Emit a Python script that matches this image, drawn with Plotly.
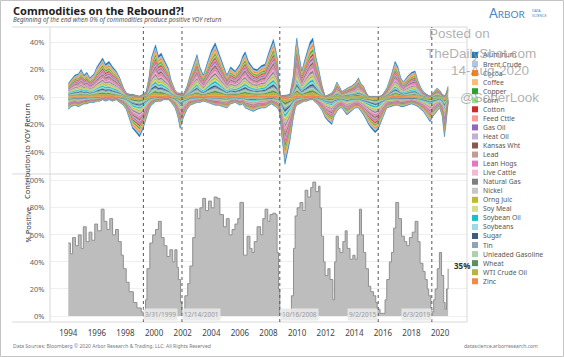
import plotly.graph_objects as go

# ---------------- data ----------------
commodities = ["Aluminum", "Brent Crude", "Cocoa", "Coffee", "Copper", "Corn", "Cotton",
               "Feed Cttle", "Gas Oil", "Heat Oil", "Kansas Wht", "Lead", "Lean Hogs",
               "Live Cattle", "Natural Gas", "Nickel", "Orng Juic", "Soy Meal",
               "Soybean Oil", "Soybeans", "Sugar", "Tin", "Unleaded Gasoline", "Wheat",
               "WTI Crude Oil", "Zinc"]
colors = ["#1f77b4", "#aec7e8", "#ff7f0e", "#ffbb78", "#2ca02c", "#98df8a", "#d62728",
          "#ff9896", "#9467bd", "#c5b0d5", "#8c564b", "#c49c94", "#e377c2", "#f7b6d2",
          "#7f7f7f", "#c7c7c7", "#bcbd22", "#dbdb8d", "#17becf", "#9edae5", "#3f5d7d",
          "#8ba3bb", "#a9d3a9", "#5f8f5f", "#b9b43e", "#ef8a4c"]
# estimated share of each commodity in the stacked contribution band
shares = [0.060, 0.050, 0.040, 0.045, 0.035, 0.040, 0.035, 0.030, 0.040, 0.040,
          0.035, 0.035, 0.040, 0.030, 0.040, 0.040, 0.035, 0.035, 0.040, 0.035,
          0.035, 0.030, 0.040, 0.035, 0.045, 0.035]

top_years = [1994.0, 1994.2, 1994.45, 1994.7, 1994.9, 1995.1, 1995.3, 1995.5, 1995.8, 1996.0,
             1996.2, 1996.4, 1996.6, 1996.85, 1997.1, 1997.35, 1997.6, 1997.85, 1998.05, 1998.3,
             1998.5, 1998.75, 1998.98, 1999.2, 1999.45, 1999.65, 1999.8, 2000.0, 2000.1, 2000.3,
             2000.5, 2000.65, 2000.85, 2001.0, 2001.2, 2001.47, 2001.65, 2001.82, 2002.05, 2002.3,
             2002.52, 2002.75, 2003.0, 2003.2, 2003.45, 2003.75, 2004.0, 2004.27, 2004.5, 2004.8,
             2005.09, 2005.35, 2005.67, 2006.0, 2006.2, 2006.37, 2006.6, 2006.94, 2007.2, 2007.5,
             2007.76, 2008.0, 2008.2, 2008.34, 2008.5, 2008.62, 2008.72, 2008.8, 2008.92, 2009.04,
             2009.15, 2009.3, 2009.5, 2009.74, 2009.88, 2009.98, 2010.15, 2010.33, 2010.5, 2010.68,
             2010.9, 2011.1, 2011.3, 2011.5, 2011.75, 2011.96, 2012.2, 2012.43, 2012.6, 2012.78,
             2013.0, 2013.13, 2013.48, 2013.8, 2014.05, 2014.29, 2014.45, 2014.64, 2014.85, 2014.99,
             2015.2, 2015.46, 2015.65, 2015.81, 2016.0, 2016.27, 2016.55, 2016.85, 2017.05, 2017.25,
             2017.43, 2017.7, 2018.0, 2018.25, 2018.45, 2018.65, 2018.83, 2019.05, 2019.3, 2019.5,
             2019.77, 2019.97, 2020.15, 2020.3, 2020.4, 2020.56]
top_pos = [10, 13, 16, 17, 20, 16, 18, 14, 17, 22,
           25, 28.5, 24, 26, 22, 19, 14, 7, 3, 2,
           2, 1, 0.5, 2, 4, 15, 28.5, 35, 38, 30,
           32, 28.5, 24, 21, 12, 5, 3, 3, 2, 8,
           16, 24, 31, 22, 16, 26, 34, 39.5, 33, 24,
           16, 22, 19, 24, 30, 33, 26, 21, 20, 23,
           24, 32, 38, 42, 35, 28.5, 12, 2, 1, 1,
           1, 1.5, 2, 16, 35, 43, 30, 19, 26, 33,
           40, 43, 30, 21, 8, 0.5, 2, 3, 6, 11,
           7, 4, 6.5, 8, 10, 14, 10, 8, 3, 0.5,
           0.5, 0.5, 0.5, 0.5, 2, 6.5, 15, 26, 22, 14,
           11, 15, 18, 19, 12, 7, 4, 2, 0.5, 3,
           6.5, 5, 2, 1, 2, 8]
top_neg = [-9, -7, -6, -7, -6, -5, -5, -4, -4, -3,
           -3, -2, -3, -2, -3, -2, -4, -6, -9, -16,
           -23, -26, -29, -24, -15, -9, -6, -4, -3.5, -3,
           -3, -2, -2, -2, -4, -8, -14, -23, -15, -9,
           -6, -5, -4, -4, -3, -4, -5, -6, -6, -7,
           -8, -5, -4, -6, -5, -8, -9, -10.5, -9, -8,
           -8, -6, -5, -6, -7, -8, -10, -13, -28, -40,
           -49, -42, -32, -15, -8, -6, -5, -4, -3, -3,
           -2, -2, -4, -6, -10, -15, -18, -20, -14, -10.5,
           -8, -8, -13, -10, -8, -8, -10, -13, -17, -20,
           -23, -26, -24, -20, -14, -8, -7, -6, -6, -7,
           -7, -6, -5, -6, -7, -9, -10.5, -14, -18, -14,
           -10.5, -8, -14, -29, -21, -4]

pct_years = [1994.0, 1994.15, 1994.3, 1994.5, 1994.7, 1994.9, 1995.05, 1995.25, 1995.45, 1995.65,
             1995.85, 1996.05, 1996.3, 1996.5, 1996.7, 1996.9, 1997.1, 1997.3, 1997.5, 1997.7,
             1997.85, 1998.05, 1998.25, 1998.55, 1998.8, 1999.1, 1999.25, 1999.4, 1999.5, 1999.7,
             1999.9, 2000.1, 2000.3, 2000.5, 2000.7, 2000.9, 2001.1, 2001.3, 2001.45, 2001.6,
             2001.7, 2001.85, 2001.95, 2002.15, 2002.35, 2002.5, 2002.7, 2002.87, 2003.05, 2003.2,
             2003.4, 2003.6, 2003.8, 2004.0, 2004.2, 2004.4, 2004.6, 2004.85, 2005.05, 2005.25,
             2005.45, 2005.65, 2005.85, 2006.0, 2006.25, 2006.5, 2006.7, 2006.85, 2007.0, 2007.2,
             2007.45, 2007.6, 2007.76, 2007.95, 2008.1, 2008.3, 2008.5, 2008.6, 2008.7, 2008.79,
             2008.96, 2009.2, 2009.4, 2009.6, 2009.75, 2009.86, 2010.0, 2010.2, 2010.4, 2010.56,
             2010.75, 2010.95, 2011.1, 2011.3, 2011.5, 2011.6, 2011.7, 2011.85, 2011.96, 2012.15,
             2012.3, 2012.5, 2012.62, 2012.73, 2012.88, 2013.0, 2013.2, 2013.36, 2013.5, 2013.7,
             2013.9, 2014.05, 2014.2, 2014.36, 2014.5, 2014.64, 2014.8, 2014.99, 2015.15, 2015.34,
             2015.5, 2015.6, 2015.8, 2016.05, 2016.15, 2016.27, 2016.45, 2016.6, 2016.75, 2016.9,
             2017.1, 2017.3, 2017.5, 2017.67, 2017.85, 2018.05, 2018.25, 2018.45, 2018.6, 2018.8,
             2018.95, 2019.1, 2019.2, 2019.35, 2019.42, 2019.55, 2019.65, 2019.8, 2019.95, 2020.1,
             2020.25, 2020.35, 2020.45, 2020.56]
pct_values = [54, 46, 58, 52, 60, 50, 66, 55, 62, 56,
              68, 63, 79, 70, 64, 72, 60, 64, 55, 45,
              35, 25, 18, 10, 6, 3, 0, 12, 35, 54,
              60, 64, 70, 58, 52, 44, 49, 40, 49, 36,
              27, 10, 2, 15, 24, 37, 58, 79, 72, 80,
              87, 78, 85, 80, 88, 87, 75, 66, 72, 60,
              64, 68, 72, 84, 45, 59, 50, 47, 55, 66,
              60, 72, 79, 70, 75, 76, 75, 47, 20, 2,
              0, 1, 2, 15, 50, 74, 80, 84, 78, 93,
              88, 95, 99, 92, 96, 80, 59, 40, 30, 35,
              27, 12, 40, 59, 50, 47, 55, 63, 50, 42,
              45, 42, 60, 79, 60, 47, 35, 22, 18, 15,
              10, 5, 2, 2, 12, 27, 40, 47, 65, 84,
              72, 59, 55, 52, 58, 62, 70, 55, 39, 33,
              27, 20, 15, 5, 3, 12, 20, 35, 47, 30,
              10, 5, 20, 35]

event_years = [1999.25, 2001.95, 2008.79, 2015.67, 2019.42]
event_labels = ["3/31/1999", "12/14/2001", "10/16/2008", "9/2/2015", "6/3/2019"]
event_side = ["right", "right", "right", "left", "left"]

year_ticks = list(range(1994, 2021, 2))
top_ticks = [-40, -20, 0, 20, 40]
bottom_ticks = [0, 20, 40, 60, 80, 100]

# ---------------- layout helpers ----------------
W, H = 564, 357
L, R, T, B = 50, 467, 27, 322
SEP = 174


def px(x):
    return (x - L) / (R - L)


def py(y):
    return (B - y) / (B - T)


FONT = "Noto Sans"
fig = go.Figure()

# top stacked areas (outermost = Aluminum)
for i in reversed(range(len(commodities))):
    c = colors[i]
    fig.add_trace(go.Scatter(
        x=top_years, y=[v * shares[i] for v in top_pos], mode="lines",
        stackgroup="pos", line=dict(width=0.4, color=c), fillcolor=c,
        xaxis="x2", yaxis="y", showlegend=False, hoverinfo="skip"))
    fig.add_trace(go.Scatter(
        x=top_years, y=[v * shares[i] for v in top_neg], mode="lines",
        stackgroup="neg", line=dict(width=0.4, color=c), fillcolor=c,
        xaxis="x2", yaxis="y", showlegend=False, hoverinfo="skip"))

# bottom % positive
fig.add_trace(go.Scatter(
    x=pct_years, y=pct_values, mode="lines", line=dict(shape="hv", color="#8f8f8f", width=1),
    fill="tozeroy", fillcolor="#bdbdbd", xaxis="x", yaxis="y2", showlegend=False,
    hoverinfo="skip"))

xr = [1992.72, 2021.88]
dom_split = py(SEP)

shapes = []
# outer frame
shapes.append(dict(type="rect", xref="paper", yref="paper", x0=px(0.5), x1=px(563.5),
                   y0=py(356.5), y1=py(0.5), line=dict(color="#c4c4c4", width=1)))
# panel borders
for yy in (T, SEP, B):
    shapes.append(dict(type="line", xref="paper", yref="paper", x0=px(12), x1=1,
                       y0=py(yy), y1=py(yy), line=dict(color="#d9d9d9", width=1)))
for xx in (L, R):
    shapes.append(dict(type="line", xref="paper", yref="paper", x0=px(xx), x1=px(xx),
                       y0=0, y1=1, line=dict(color="#d9d9d9", width=1)))
# event lines
for ex in event_years:
    shapes.append(dict(type="line", xref="x", yref="paper", x0=ex, x1=ex, y0=0, y1=1,
                       line=dict(color="#555555", width=1, dash="dot")))

annotations = []
# title / subtitle
annotations.append(dict(text="<b>Commodities on the Rebound?!</b>", xref="paper", yref="paper",
                        x=px(11), y=py(10), xanchor="left", yanchor="middle", showarrow=False,
                        font=dict(family=FONT, size=11, color="#222")))
annotations.append(dict(text="<i>Beginning of the end when 0% of commodities produce positive YOY return</i>",
                        xref="paper", yref="paper", x=px(11), y=py(20), xanchor="left",
                        yanchor="middle", showarrow=False,
                        font=dict(family=FONT, size=6.3, color="#555")))
# Arbor logo
annotations.append(dict(text="A<span style='font-size:10px'>RBOR</span>", xref="paper", yref="paper",
                        x=px(528), y=py(13), xanchor="right", yanchor="middle", showarrow=False,
                        font=dict(family="Lato", size=13, color="#4a86c5")))
annotations.append(dict(text="DATA<br>SCIENCE", xref="paper", yref="paper",
                        x=px(530), y=py(13), xanchor="left", yanchor="middle", showarrow=False,
                        align="left", font=dict(family=FONT, size=3.6, color="#4a86c5")))
# axis titles
annotations.append(dict(text="Contribution to YOY Return", xref="paper", yref="paper",
                        x=px(20), y=py(101), textangle=-90, showarrow=False,
                        font=dict(family=FONT, size=7.5, color="#333")))
annotations.append(dict(text="% Positive", xref="paper", yref="paper",
                        x=px(20), y=py(245), textangle=-90, showarrow=False,
                        font=dict(family=FONT, size=7.5, color="#333")))
# event labels
for ex, lab, side in zip(event_years, event_labels, event_side):
    annotations.append(dict(text=lab, xref="x", yref="y2", x=ex, y=-3.6,
                            xanchor="left" if side == "right" else "right", yanchor="bottom",
                            showarrow=False, bgcolor="rgba(232,232,232,0.9)", borderpad=1,
                            font=dict(family=FONT, size=6.5, color="#9a9a9a")))
# last value label
annotations.append(dict(text="<b>35%</b>", xref="paper", yref="paper", x=px(452), y=py(265),
                        xanchor="left", yanchor="middle", showarrow=False,
                        font=dict(family=FONT, size=8, color="#333")))
# footer
annotations.append(dict(text="Data Sources: Bloomberg © 2020 Arbor Research & Trading, LLC. All Rights Reserved",
                        xref="paper", yref="paper", x=px(11), y=py(346), xanchor="left",
                        yanchor="middle", showarrow=False,
                        font=dict(family=FONT, size=5, color="#777")))
annotations.append(dict(text="datascience.arborresearch.com", xref="paper", yref="paper",
                        x=px(540), y=py(346), xanchor="right", yanchor="middle", showarrow=False,
                        font=dict(family=FONT, size=5, color="#777")))
# legend
for i, (name, c) in enumerate(zip(commodities, colors)):
    yc = 55 + 9.05 * i
    shapes.append(dict(type="rect", xref="paper", yref="paper", x0=px(472), x1=px(478),
                       y0=py(yc + 3), y1=py(yc - 3), fillcolor=c, line=dict(width=0)))
    annotations.append(dict(text=name, xref="paper", yref="paper", x=px(481), y=py(yc),
                            xanchor="left", yanchor="middle", showarrow=False,
                            font=dict(family=FONT, size=6.8, color="#555")))
# watermark
wm = dict(family="Liberation Sans", size=13.5, color="rgba(150,150,150,0.75)")
annotations.append(dict(text="Posted on", xref="paper", yref="paper", x=px(427), y=py(34),
                        xanchor="left", yanchor="middle", showarrow=False, font=wm))
annotations.append(dict(text="TheDailyShot.com", xref="paper", yref="paper", x=px(424), y=py(53),
                        xanchor="left", yanchor="middle", showarrow=False, font=wm))
annotations.append(dict(text="14-Aug-2020", xref="paper", yref="paper", x=px(531), y=py(70),
                        xanchor="right", yanchor="middle", showarrow=False, font=wm))
annotations.append(dict(text="@SoberLook", xref="paper", yref="paper", x=px(458), y=py(97),
                        xanchor="left", yanchor="middle", showarrow=False, font=wm))

tickfont = dict(family=FONT, size=7.5, color="#666")
fig.update_layout(
    width=W, height=H, margin=dict(l=L, r=W - R, t=T, b=H - B),
    paper_bgcolor="white", plot_bgcolor="white",
    xaxis=dict(domain=[0, 1], anchor="y2", range=xr, tickmode="array", tickvals=year_ticks,
               ticktext=[str(v) for v in year_ticks], showgrid=False, zeroline=False,
               showline=False, ticks="outside", ticklen=3, tickcolor="rgba(0,0,0,0)",
               tickfont=dict(family=FONT, size=8, color="#444")),
    xaxis2=dict(domain=[0, 1], anchor="y", range=xr, matches="x", showticklabels=False,
                showgrid=False, zeroline=False, showline=False),
    yaxis=dict(domain=[dom_split, 1], anchor="x2", range=[-56, 51], tickmode="array",
               tickvals=top_ticks, ticktext=[f"{v}%" for v in top_ticks], showgrid=True,
               gridcolor="#efefef", zeroline=False, showline=False, ticks="outside",
               ticklen=3, tickcolor="rgba(0,0,0,0)", tickfont=tickfont),
    yaxis2=dict(domain=[0, dom_split], anchor="x", range=[-4.4, 105], tickmode="array",
                tickvals=bottom_ticks, ticktext=[f"{v}%" for v in bottom_ticks], showgrid=True,
                gridcolor="#efefef", zeroline=False, showline=False, ticks="outside",
                ticklen=3, tickcolor="rgba(0,0,0,0)", tickfont=tickfont),
    shapes=shapes, annotations=annotations,
)

fig.write_html("out.html", config={"displayModeBar": False},
               post_script="document.body.style.margin='0px';document.body.style.overflow='hidden';")
